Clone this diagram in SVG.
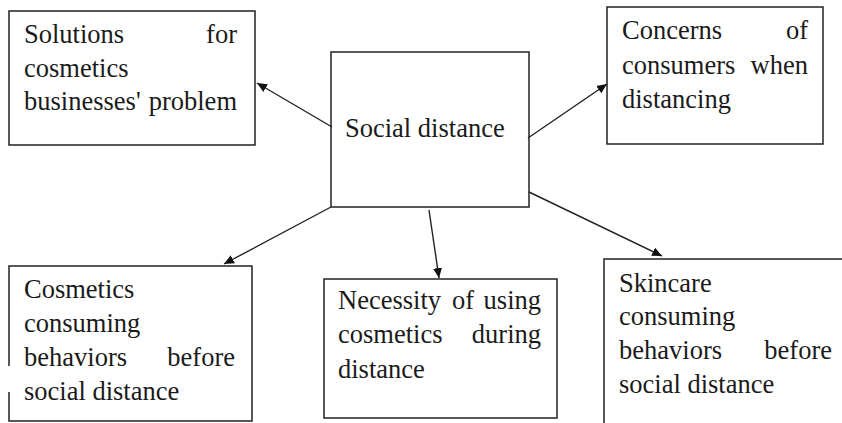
<svg xmlns="http://www.w3.org/2000/svg" width="842" height="423" viewBox="0 0 842 423">
<style>
.box{fill:#fff;stroke:#222;stroke-width:1.5}
.edge{fill:none;stroke:#222;stroke-width:1.5}
text{font-family:"Liberation Serif","Times New Roman",serif;font-size:26.5px;fill:#1a1a1a}
.e{text-anchor:end}
.c{stroke:#222;stroke-width:1.4;fill:none;marker-end:url(#ah)}
</style>
<defs>
<marker id="ah" viewBox="0 0 10 10" refX="10" refY="5" markerWidth="10" markerHeight="10" markerUnits="userSpaceOnUse" orient="auto">
<path d="M0,0.5 L10,5 L0,9.5 Z" fill="#111"/>
</marker>
</defs>
<rect width="842" height="423" fill="#fff"/>
<g id="n-solutions">
<rect class="box" x="9" y="11" width="246" height="134"/>
<text x="24" y="43">Solutions</text><text class="e" x="237" y="43">for</text>
<text x="24" y="77">cosmetics</text>
<text x="24" y="110">businesses'</text><text class="e" x="237" y="110">problem</text>
</g>
<g id="n-concerns">
<rect class="box" x="607" y="7" width="216" height="137"/>
<text x="622" y="39">Concerns</text><text class="e" x="808" y="39">of</text>
<text x="622" y="74">consumers</text><text class="e" x="808" y="74">when</text>
<text x="622" y="108">distancing</text>
</g>
<g id="n-social">
<rect class="box" x="331" y="52" width="198" height="155"/>
<text x="345" y="137">Social distance</text>
</g>
<g id="n-necessity">
<rect class="box" x="324" y="279" width="233" height="139"/>
<text x="338" y="309">Necessity</text><text x="452" y="309">of</text><text class="e" x="541" y="309">using</text>
<text x="338" y="343">cosmetics</text><text class="e" x="541" y="343">during</text>
<text x="338" y="378">distance</text>
</g>
<g id="n-cosmetics">
<path class="edge" d="M9,366 L9,266 L252,266 L252,421 L9,421 L9,392"/>
<text x="24" y="298">Cosmetics</text>
<text x="24" y="332">consuming</text>
<text x="24" y="366">behaviors</text><text class="e" x="235" y="366">before</text>
<text x="24" y="400">social distance</text>
</g>
<g id="n-skincare">
<path class="edge" d="M604,430 L604,259 L850,259"/>
<text x="619" y="292">Skincare</text>
<text x="619" y="325">consuming</text>
<text x="619" y="359">behaviors</text><text class="e" x="832" y="359">before</text>
<text x="619" y="393">social distance</text>
</g>
<g id="connectors">
<line class="c" x1="332" y1="127" x2="257" y2="83"/>
<line class="c" x1="528" y1="138" x2="607" y2="84"/>
<line class="c" x1="331" y1="207" x2="224" y2="264"/>
<line class="c" x1="429" y1="210" x2="439" y2="278"/>
<line class="c" x1="529" y1="192" x2="662" y2="256"/>
</g>
</svg>
